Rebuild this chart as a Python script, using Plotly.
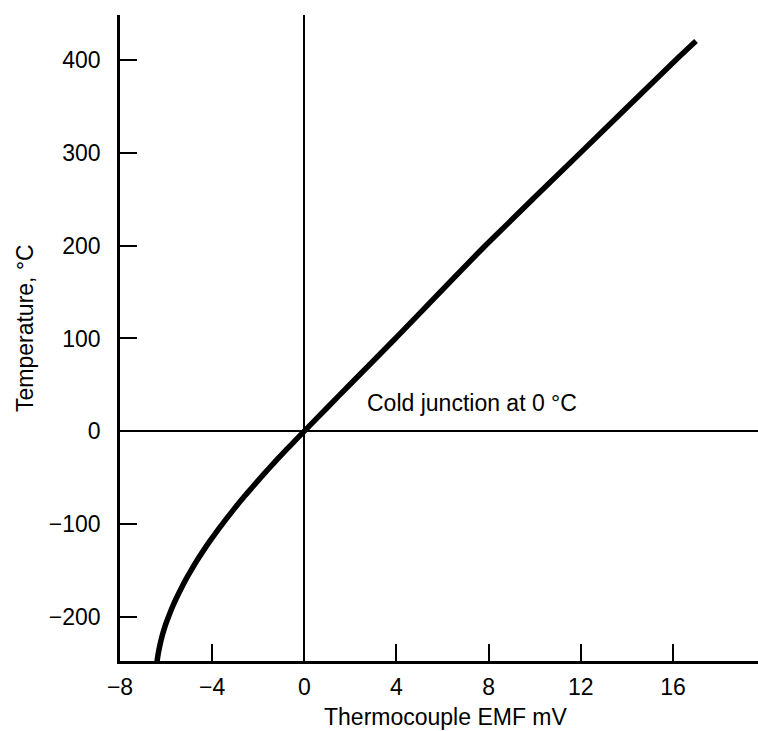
import plotly.graph_objects as go

# Thermocouple EMF (mV) vs temperature (°C)
emf_mv = [-6.44, -6.40, -6.34, -6.26, -6.16, -6.04, -5.89, -5.73, -5.55, -5.35, -5.14,
          -4.91, -4.67, -4.41, -4.14, -3.85, -3.55, -3.24, -2.92, -2.59, -2.24, -1.89,
          -1.53, -1.16, -0.78, -0.39, 0.0, 0.98, 1.97, 3.95, 7.85, 11.97, 16.1, 17.0]
temp_c = [-260, -250, -240, -230, -220, -210, -200, -190, -180, -170, -160,
          -150, -140, -130, -120, -110, -100, -90, -80, -70, -60, -50,
          -40, -30, -20, -10, 0, 25, 50, 100, 200, 300, 400, 421]

x_ticks = [-8, -4, 0, 4, 8, 12, 16]
x_tick_text = ["\u22128", "\u22124", "0", "4", "8", "12", "16"]
y_ticks = [-200, -100, 0, 100, 200, 300, 400]
y_tick_text = ["\u2212200", "\u2212100", "0", "100", "200", "300", "400"]

FONT = "Liberation Sans, Arial, sans-serif"
W, H = 758, 731
L, R, T, B = 120, 0, 15, 70

def px_to_paper(px, py):
    return (px - L) / (W - L - R), 1 - (py - T) / (H - T - B)

fig = go.Figure()
fig.add_trace(go.Scatter(
    x=emf_mv, y=temp_c, mode="lines",
    line=dict(color="black", width=5.5, shape="spline", smoothing=0.5),
    hoverinfo="skip", showlegend=False,
))

ax, ay = px_to_paper(365, 403)
tx, ty = px_to_paper(25, 328)
bx, by = px_to_paper(446, 717)

fig.update_layout(
    width=W, height=H,
    margin=dict(l=L, r=R, t=T, b=B, pad=0),
    paper_bgcolor="white", plot_bgcolor="white",
    font=dict(family=FONT, size=23, color="black"),
    showlegend=False,
    xaxis=dict(
        range=[-8, 19.69], showgrid=False, automargin=False,
        showline=True, linecolor="black", linewidth=2.5,
        zeroline=True, zerolinecolor="black", zerolinewidth=1.8,
        ticks="inside", ticklen=17, tickwidth=2, tickcolor="black",
        tickvals=x_ticks, ticktext=x_tick_text,
        tickfont=dict(family=FONT, size=23, color="black"),
        ticklabelstandoff=4,
    ),
    yaxis=dict(
        range=[-248, 449], showgrid=False, automargin=False,
        showline=True, linecolor="black", linewidth=2.5,
        zeroline=True, zerolinecolor="black", zerolinewidth=1.8,
        ticks="inside", ticklen=17, tickwidth=2, tickcolor="black",
        tickvals=y_ticks, ticktext=y_tick_text,
        tickfont=dict(family=FONT, size=23, color="black"),
        ticklabelstandoff=12,
    ),
    annotations=[
        dict(text="Cold junction at 0 \u00b0C", x=ax, y=ay, xref="paper", yref="paper",
             showarrow=False, xanchor="left", yanchor="middle",
             font=dict(family=FONT, size=23, color="black")),
        dict(text="Temperature, \u00b0C", x=tx, y=ty, xref="paper", yref="paper",
             showarrow=False, textangle=-90, xanchor="center", yanchor="middle",
             font=dict(family=FONT, size=23, color="black")),
        dict(text="Thermocouple EMF mV", x=bx, y=by, xref="paper", yref="paper",
             showarrow=False, xanchor="center", yanchor="middle",
             font=dict(family=FONT, size=23, color="black")),
    ],
)

fig.write_html(
    "out.html",
    config={"displayModeBar": False},
    post_script="document.body.style.margin='0';document.body.style.overflow='hidden';",
)
